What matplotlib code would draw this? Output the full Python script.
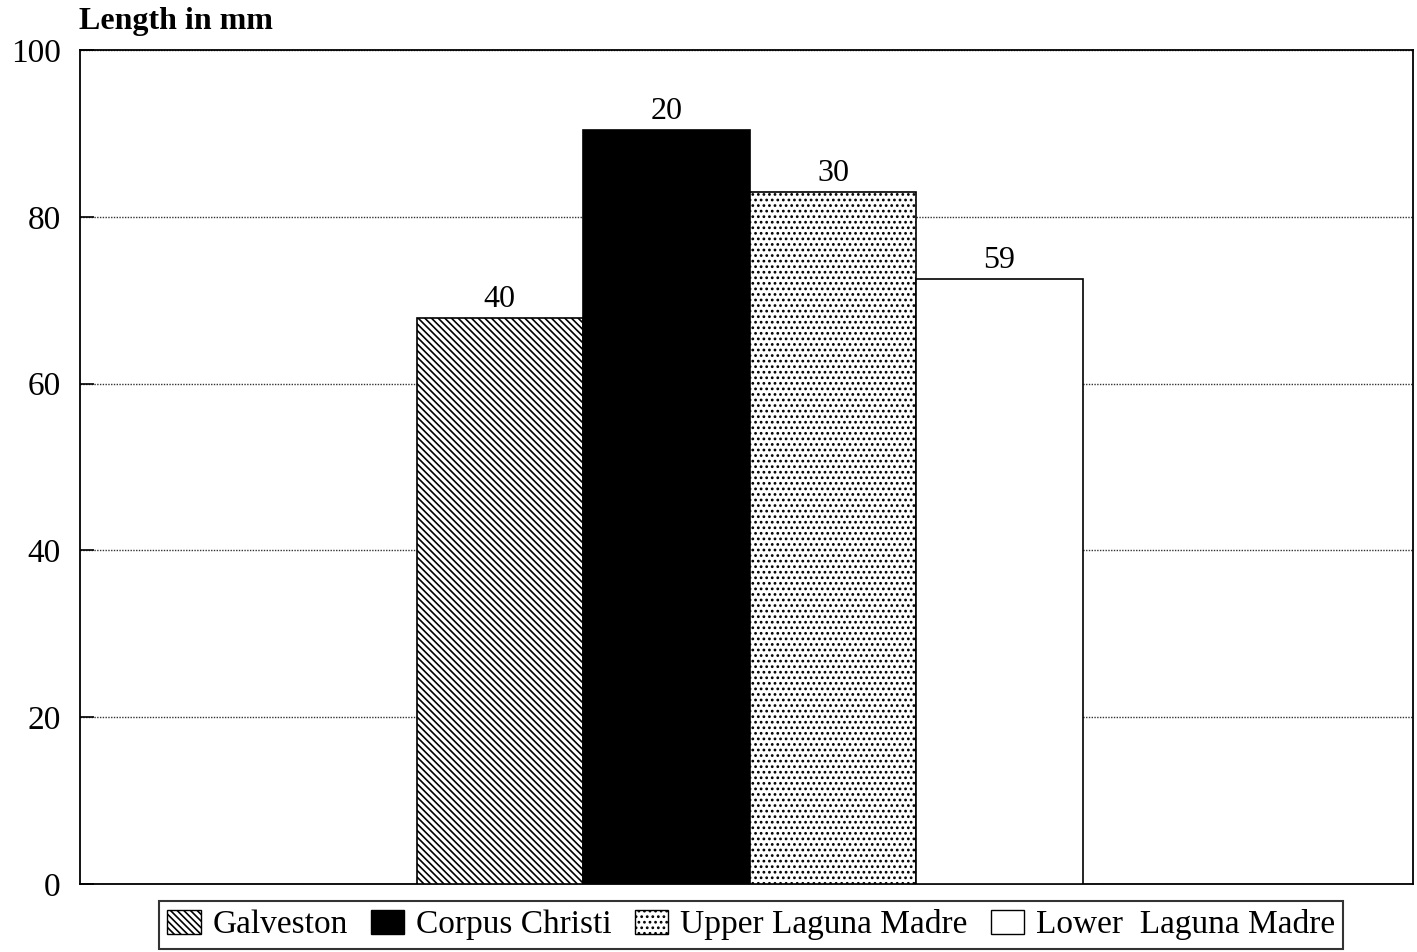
import matplotlib
matplotlib.use('Agg')
import matplotlib.pyplot as plt
from matplotlib.patches import Patch

# data
sites = ['Galveston', 'Corpus Christi', 'Upper Laguna Madre', 'Lower  Laguna Madre']
lengths = [67.9, 90.4, 83.0, 72.5]
counts = ['40', '20', '30', '59']
hatches = ['\\\\\\\\\\', '', '...', '']
colors = ['white', 'black', 'white', 'white']
yticks = [0, 20, 40, 60, 80, 100]

plt.rcParams['font.family'] = ['Liberation Serif', 'DejaVu Serif']
plt.rcParams['hatch.linewidth'] = 1.2

fig = plt.figure(figsize=(14.17, 9.52), dpi=100)
ax = fig.add_axes([0.0565, 0.0714, 0.9405, 0.8761])

x = range(len(sites))
bars = ax.bar(x, lengths, width=1.0, color=colors, edgecolor='black',
              linewidth=1.2, zorder=3)
for b, h in zip(bars, hatches):
    b.set_hatch(h)

for b, c in zip(bars, counts):
    ax.text(b.get_x() + b.get_width() / 2, b.get_height() + 0.5, c,
            ha='center', va='bottom', fontsize=23, zorder=4)

ax.set_xlim(-2.52, 5.48)
ax.set_ylim(0, 100)
ax.set_yticks(yticks)
ax.set_yticklabels([str(t) for t in yticks], fontsize=24)
ax.set_xticks([])
ax.tick_params(axis='y', direction='in', length=10, width=1.2, pad=14)
ax.grid(axis='y', linestyle=(0, (1, 1)), color='#333333', linewidth=1.0, zorder=0)
for s in ax.spines.values():
    s.set_linewidth(1.3)

fig.text(0.056, 0.962, 'Length in mm', fontsize=23, fontweight='bold',
         ha='left', va='bottom')

handles = [Patch(facecolor=c, edgecolor='black', hatch=h, linewidth=1.0)
           for c, h in zip(colors, hatches)]
leg = fig.legend(handles, sites, loc='lower center', bbox_to_anchor=(0.53, 0.0),
                 ncol=4, fontsize=24, frameon=True, fancybox=False,
                 edgecolor='black', handlelength=1.0, handleheight=0.75,
                 handletextpad=0.35, columnspacing=0.7, borderpad=0.25,
                 borderaxespad=0.1)
leg.get_frame().set_linewidth(1.5)

fig.savefig('out.png', dpi=100)
